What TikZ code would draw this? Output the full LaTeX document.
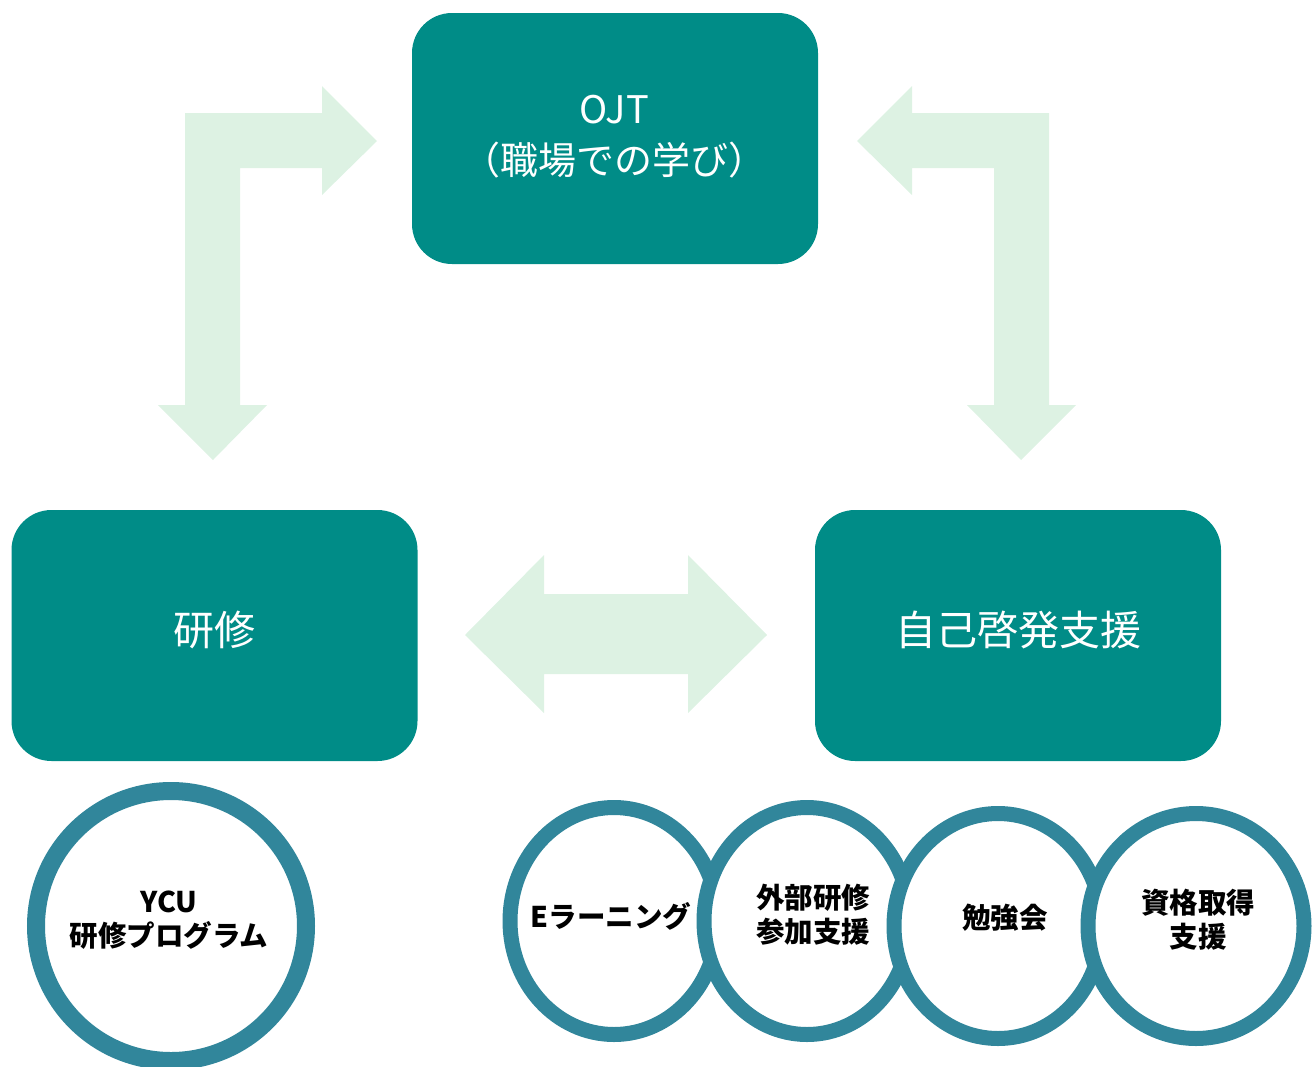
\documentclass[tikz,border=0pt]{standalone}
\usepackage{fontspec}
\setmainfont{Noto Sans CJK JP}
\usetikzlibrary{shapes.geometric}
\definecolor{boxteal}{RGB}{0,140,135}
\definecolor{ringblue}{RGB}{49,134,155}
\definecolor{arrowgreen}{RGB}{221,242,227}
\begin{document}
\begin{tikzpicture}[x=1pt,y=-1pt,
  mainbox/.style={fill=boxteal, rounded corners=40, minimum width=406, minimum height=251, inner sep=0},
  boxtext/.style={text=white, align=center, inner sep=0},
  blockarrow/.style={fill=arrowgreen},
  ring/.style={ellipse, draw=ringblue, fill=white, line width=15, inner sep=0},
  ringtext/.style={align=center, inner sep=0, font=\bfseries\fontsize{28.5}{34}\selectfont}
]
\useasboundingbox (0,0) rectangle (1312,1066);
\clip (0,0) rectangle (1312,1066);

% block arrows
\fill[blockarrow] (185,113) -- (322,113) -- (322,86) -- (377,141) -- (322,195) -- (322,168) -- (240,168) -- (240,405) -- (267,405) -- (213,460) -- (158,405) -- (185,405) -- cycle;
\fill[blockarrow] (1049,113) -- (912,113) -- (912,86) -- (857,141) -- (912,195) -- (912,168) -- (994,168) -- (994,405) -- (967,405) -- (1021,460) -- (1076,405) -- (1049,405) -- cycle;
\fill[blockarrow] (465,635) -- (544,555) -- (544,594) -- (688,594) -- (688,555) -- (767,635) -- (688,713) -- (688,674) -- (544,674) -- (544,713) -- cycle;

% main boxes
\node[mainbox] (ojt) at (615,138.5) {};
\node[boxtext, font=\fontsize{38}{51}\selectfont] (ojtt) at (614,137) {OJT\\（職場での学び）};
\node[mainbox] (kenshu) at (214.5,635.5) {};
\node[boxtext, font=\fontsize{41}{50}\selectfont] (kenshut) at (214,630) {研修};
\node[mainbox] (jiko) at (1018,635.5) {};
\node[boxtext, font=\fontsize{41}{50}\selectfont] (jikot) at (1018,630) {自己啓発支援};

% rings
\node[ring, circle, line width=18, minimum size=270] (ycu) at (171,926) {};
\node[ringtext] (ycut) at (169,920) {YCU\\研修プログラム};
\node[ring, minimum width=208, minimum height=227] (e1) at (614,921) {};
\node[ringtext] (e1t) at (611,916) {Eラーニング};
\node[ring, minimum width=206, minimum height=227] (e2) at (807,921) {};
\node[ringtext] (e2t) at (813,915) {外部研修\\参加支援};
\node[ring, minimum width=208, minimum height=225] (e3) at (998,926) {};
\node[ringtext] (e3t) at (1005,918) {勉強会};
\node[ring, minimum width=216, minimum height=225] (e4) at (1196,926) {};
\node[ringtext] (e4t) at (1198,920) {資格取得\\支援};
\end{tikzpicture}
\end{document}
